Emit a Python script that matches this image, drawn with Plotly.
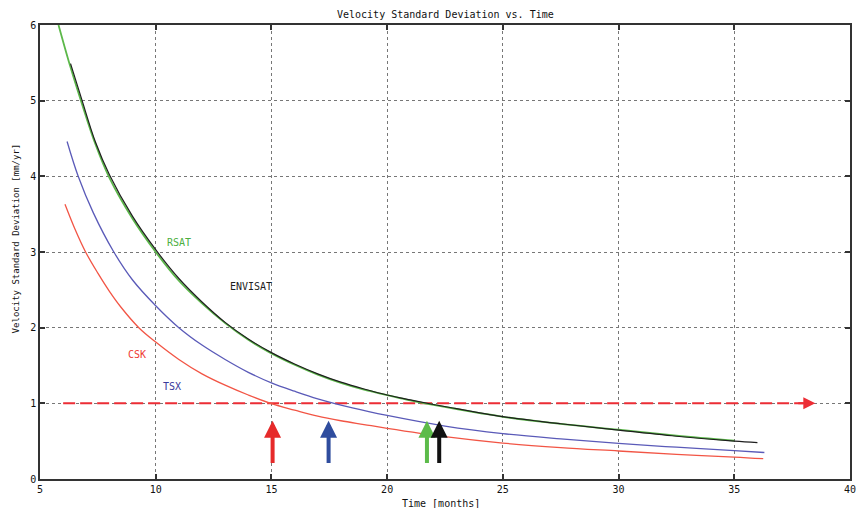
import plotly.graph_objects as go

# ---- data ----
rsat_t = [5.8, 6.3, 6.8, 7.4, 8.0, 9.0, 10.0, 11.0, 12.0, 13.0, 14.0, 15.0, 16.0, 17.0, 18.0, 19.0, 20.0,
          21.0, 22.0, 23.0, 24.0, 25.0, 27.5, 30.0, 32.5, 35.0]
rsat_v = [6.0, 5.46, 4.97, 4.42, 3.98, 3.44, 3.0, 2.62, 2.32, 2.06, 1.84, 1.66, 1.51, 1.38, 1.27, 1.18, 1.11,
          1.04, 0.98, 0.925, 0.872, 0.822, 0.728, 0.652, 0.573, 0.508]

envisat_t = [6.32, 6.8, 7.4, 8.0, 9.0, 10.0, 11.0, 12.0, 13.0, 14.0, 15.0, 16.0, 17.0, 18.0, 19.0, 20.0,
             21.0, 22.0, 23.0, 24.0, 25.0, 27.5, 30.0, 32.5, 35.0, 36.0]
envisat_v = [5.49, 5.02, 4.45, 4.02, 3.47, 3.03, 2.65, 2.34, 2.07, 1.85, 1.67, 1.52, 1.39, 1.28, 1.19, 1.11,
             1.045, 0.985, 0.93, 0.875, 0.825, 0.73, 0.645, 0.565, 0.5, 0.48]

tsx_t = [6.17, 6.65, 7.3, 8.19, 9.0, 10.0, 11.0, 12.0, 13.0, 14.0, 15.0, 16.0, 17.0, 18.5, 20.0,
         22.5, 25.0, 27.5, 30.0, 32.5, 35.0, 36.3]
tsx_v = [4.46, 4.0, 3.52, 3.0, 2.63, 2.29, 2.0, 1.77, 1.58, 1.41, 1.27, 1.16, 1.06, 0.94, 0.84,
         0.70, 0.60, 0.53, 0.47, 0.42, 0.375, 0.35]

csk_t = [6.08, 6.5, 6.97, 7.5, 8.0, 8.5, 9.27, 10.0, 11.0, 12.0, 13.0, 14.0, 15.0, 16.0, 17.0, 18.0, 19.0,
         20.0, 22.5, 25.0, 27.5, 30.0, 32.5, 35.0, 36.25]
csk_v = [3.63, 3.31, 3.0, 2.72, 2.48, 2.27, 2.0, 1.81, 1.58, 1.39, 1.24, 1.11, 0.995, 0.91, 0.83, 0.77, 0.72,
         0.67, 0.56, 0.475, 0.415, 0.37, 0.325, 0.29, 0.268]

threshold_t = [6.0, 38.0]
threshold_v = [1.0, 1.0]

# times at which each sensor reaches the 1 mm/yr threshold (arrows)
arrow_t = [15.05, 17.47, 21.72, 22.25]
arrow_names = ["CSK", "TSX", "RSAT", "ENVISAT"]

label_names = ["RSAT", "ENVISAT", "CSK", "TSX"]
label_t = [11.0, 14.1, 9.2, 10.7]
label_v = [3.12, 2.55, 1.64, 1.22]

x_ticks = [5, 10, 15, 20, 25, 30, 35, 40]
y_ticks = [0, 1, 2, 3, 4, 5, 6]

# ---- styles ----
line_col = {"RSAT": "#5cb84a", "ENVISAT": "#1e1e1e", "TSX": "#5a5ab8", "CSK": "#f25545"}
line_w = {"RSAT": 1.8, "ENVISAT": 1.2, "TSX": 1.3, "CSK": 1.3}
text_col = {"RSAT": "#4caf3f", "ENVISAT": "#1e1e1e", "TSX": "#3a3a9c", "CSK": "#ee3b33"}
arrow_col = {"CSK": "#e62a2a", "TSX": "#2f4d9e", "RSAT": "#5cbb4a", "ENVISAT": "#111111"}
FONT = "DejaVu Sans Mono"

fig = go.Figure()
fig.add_trace(go.Scatter(x=threshold_t, y=threshold_v, mode="lines",
                         line=dict(color="#ec2d35", width=2, dash="12px,5px"),
                         hoverinfo="skip"))
for name, t, v in [("RSAT", rsat_t, rsat_v), ("TSX", tsx_t, tsx_v),
                   ("CSK", csk_t, csk_v), ("ENVISAT", envisat_t, envisat_v)]:
    fig.add_trace(go.Scatter(x=t, y=v, mode="lines", name=name,
                             line=dict(color=line_col[name], width=line_w[name],
                                       shape="spline", smoothing=1.0)))

ann = []
# threshold arrow head
ann.append(dict(x=threshold_t[1] + 0.5, y=threshold_v[1], ax=threshold_t[1] - 0.3, ay=threshold_v[1],
                xref="x", yref="y", axref="x", ayref="y", text="", showarrow=True,
                arrowhead=2, arrowsize=1.2, arrowwidth=2, arrowcolor="#ec2d35"))
for t, n in zip(arrow_t, arrow_names):
    ann.append(dict(x=t, y=0.77, ax=t, ay=0.19, xref="x", yref="y", axref="x", ayref="y",
                    text="", showarrow=True, arrowhead=2, arrowsize=0.85, arrowwidth=4,
                    arrowcolor=arrow_col[n]))
for n, t, v in zip(label_names, label_t, label_v):
    ann.append(dict(x=t, y=v, xref="x", yref="y", text=n, showarrow=False,
                    font=dict(family=FONT, size=10, color=text_col[n])))
ann.append(dict(x=0.5, y=1.0, xref="paper", yref="paper", yanchor="bottom", yshift=3,
                text="Velocity Standard Deviation vs. Time",
                showarrow=False, font=dict(family=FONT, size=10, color="#111")))
ann.append(dict(x=0.495, y=0, xref="paper", yref="paper", yanchor="top", yshift=-17,
                text="Time [months]", showarrow=False, font=dict(family=FONT, size=10, color="#111")))
ann.append(dict(x=0, y=0.53, xref="paper", yref="paper", xanchor="right", xshift=-17,
                text="Velocity Standard Deviation [mm/yr]", textangle=-90, showarrow=False,
                font=dict(family=FONT, size=9, color="#111")))
fig.update_layout(annotations=ann)

axis_common = dict(showline=True, mirror="ticks", linecolor="#333", linewidth=1.5,
                   ticks="inside", ticklen=5, tickwidth=1.5, tickcolor="#333",
                   showgrid=True, gridcolor="#777", griddash="dot", gridwidth=1,
                   zeroline=False, automargin=False,
                   tickfont=dict(family=FONT, size=10, color="#111"))
fig.update_xaxes(range=[5, 40], tickvals=x_ticks, **axis_common)
fig.update_yaxes(range=[0, 6], tickvals=y_ticks, **axis_common)

fig.update_layout(width=861, height=508, margin=dict(l=40, r=11, t=25, b=29, autoexpand=False),
                  paper_bgcolor="white", plot_bgcolor="white", showlegend=False)
fig.write_html("out.html")
